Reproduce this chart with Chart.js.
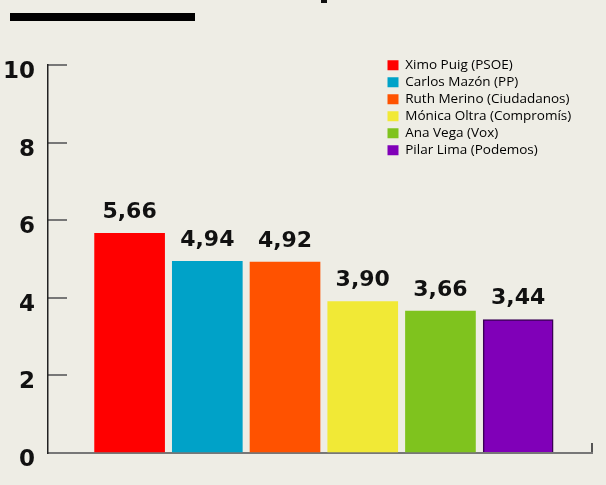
<!DOCTYPE html>
<html><head><meta charset="utf-8">
<script src="https://cdn.jsdelivr.net/npm/chart.js@4"></script>
<style>
html,body{margin:0;padding:0;background:#eeede5;}
#wrap{position:relative;width:606px;height:485px;overflow:hidden;}
#c{position:absolute;left:0;top:0;}
#rule{position:absolute;left:10px;top:13px;width:185px;height:8px;background:#000;z-index:2;}
#nub{position:absolute;left:321px;top:0px;width:6px;height:3px;background:#111;z-index:2;}
</style></head><body>
<div id="wrap"><div id="rule"></div><div id="nub"></div><canvas id="c" width="606" height="485"></canvas></div>
<script>
const categories = ['Ximo Puig (PSOE)','Carlos Mazón (PP)','Ruth Merino (Ciudadanos)','Mónica Oltra (Compromís)','Ana Vega (Vox)','Pilar Lima (Podemos)'];
const values = [5.66, 4.94, 4.92, 3.90, 3.66, 3.44];
const colors = ['#ff0000','#00a2c8','#ff5200','#f1e936','#7fc31e','#8000b8'];
const yTicks = [0, 2, 4, 6, 8, 10];

const fmt = v => v.toFixed(2).replace('.', ',');

const valueLabels = {
  id: 'valueLabels',
  afterDatasetsDraw(chart) {
    const ctx = chart.ctx;
    const meta = chart.getDatasetMeta(0);
    ctx.save();
    ctx.font = 'bold 22px "DejaVu Sans"';
    ctx.fillStyle = '#111';
    ctx.textAlign = 'center';
    ctx.textBaseline = 'middle';
    meta.data.forEach((el, i) => {
      ctx.fillText(fmt(values[i]), el.x, el.y - 21);
    });
    ctx.restore();
  }
};

const moveLegend = {
  id: 'moveLegend',
  afterLayout(chart) {
    if (chart.legend) {
      chart.legend.left = 384;
      chart.legend.top = 55;
    }
  }
};

new Chart(document.getElementById('c'), {
  type: 'bar',
  data: {
    datasets: [{
      label: 'Valoración',
      data: values.map((v, i) => ({x: i, y: v})),
      backgroundColor: colors,
      borderColor: colors.map((c, i) => i === 5 ? '#3a0055' : c),
      borderWidth: colors.map((c, i) => i === 5 ? 1.5 : 0),
      barThickness: 70
    }]
  },
  options: {
    responsive: false,
    devicePixelRatio: 1,
    animation: false,
    layout: {padding: {top: 65, left: 0, right: 14, bottom: 0}},
    plugins: {
      tooltip: {enabled: false},
      legend: {
        position: 'chartArea',
        align: 'start',
        labels: {
          boxWidth: 11,
          boxHeight: 10,
          padding: 3.5,
          color: '#222',
          font: {family: '"Open Sans"', size: 13.5},
          generateLabels: () => categories.map((c, i) => ({
            text: c, fillStyle: colors[i], strokeStyle: colors[i], lineWidth: 0, hidden: false, index: i
          }))
        }
      }
    },
    scales: {
      x: {
        type: 'linear',
        offset: false,
        min: -1.05,
        max: 5.95,
        afterBuildTicks: s => { s.ticks = [{value: 5.95}]; },
        afterFit: s => { s.height = 32; s.paddingLeft = 0; s.paddingRight = 0; },
        ticks: {display: false},
        grid: {display: true, offset: false, drawOnChartArea: false, drawTicks: true, tickLength: -10, color: '#555', lineWidth: 2},
        border: {display: true, color: '#777', width: 2}
      },
      y: {
        min: 0,
        max: 10,
        afterBuildTicks: s => { s.ticks = yTicks.map(v => ({value: v})); },
        afterFit: s => { s.width = 48; s.paddingTop = 0; s.paddingBottom = 0; },
        ticks: {
          padding: 32,
          labelOffset: 7,
          color: '#111',
          font: {family: '"DejaVu Sans"', size: 23, weight: 'bold'}
        },
        grid: {drawOnChartArea: false, drawTicks: true, tickLength: -19, color: '#777', lineWidth: 2},
        border: {display: true, color: '#222', width: 1.5}
      }
    }
  },
  plugins: [valueLabels, moveLegend]
});
</script>
</body></html>
